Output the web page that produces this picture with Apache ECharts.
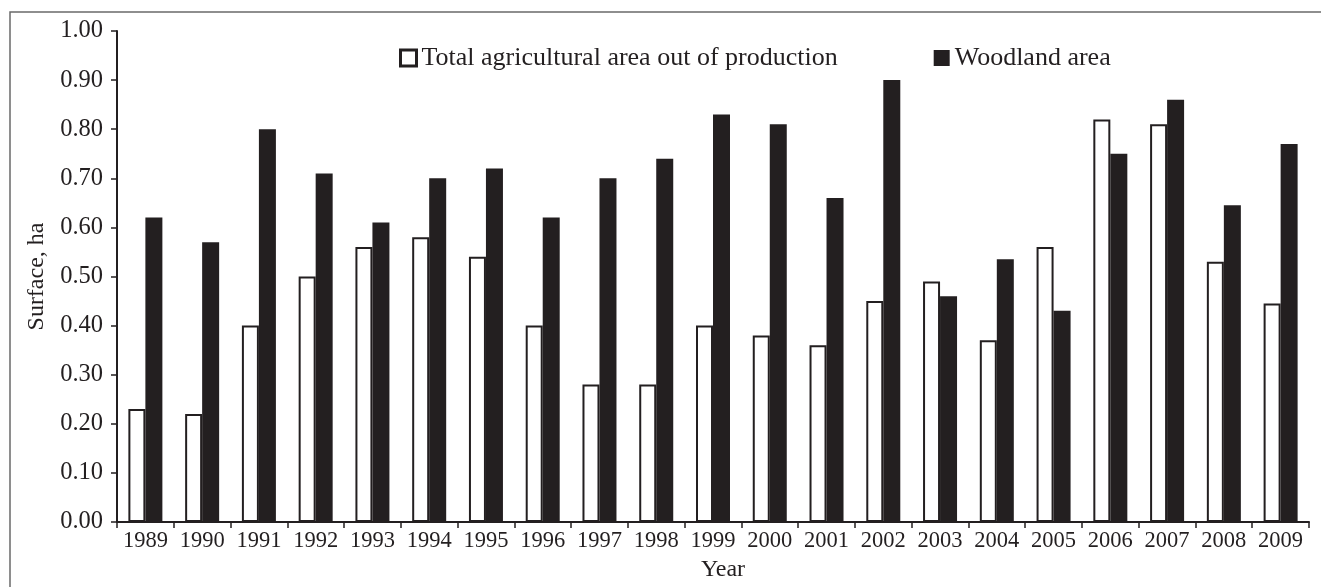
<!DOCTYPE html>
<html>
<head>
<meta charset="utf-8">
<script src="https://cdn.jsdelivr.net/npm/echarts@6/dist/echarts.min.js"></script>
<style>
html,body{margin:0;padding:0;background:#fff;}
#chart{width:1321px;height:587px;}
</style>
</head>
<body>
<div id="chart"></div>
<script>
const years = ['1989','1990','1991','1992','1993','1994','1995','1996','1997','1998','1999','2000','2001','2002','2003','2004','2005','2006','2007','2008','2009'];
const agriculturalOut = [0.23,0.22,0.40,0.50,0.56,0.58,0.54,0.40,0.28,0.28,0.40,0.38,0.36,0.45,0.49,0.37,0.56,0.82,0.81,0.53,0.445];
const woodland = [0.62,0.57,0.80,0.71,0.61,0.70,0.72,0.62,0.70,0.74,0.83,0.81,0.66,0.90,0.46,0.535,0.43,0.75,0.86,0.645,0.77];
const seriesNames = ['Total agricultural area out of production','Woodland area'];

const ink = '#231f20';
const font = "'Liberation Serif','Times New Roman',serif";

const chart = echarts.init(document.getElementById('chart'), null, {renderer:'canvas'});
chart.setOption({
  animation:false,
  backgroundColor:'#fff',
  textStyle:{fontFamily:font,color:ink},
  graphic:[{
    type:'rect', z:-10, silent:true,
    shape:{x:10,y:12,width:1400,height:700},
    style:{fill:null,stroke:'#6a6a6a',lineWidth:1.5}
  }],
  legend:{
    left:394, top:40,
    itemWidth:16, itemHeight:16, itemGap:96,
    textStyle:{fontFamily:font,fontSize:26,color:ink},
    data:[
      {name:seriesNames[0], icon:'rect', itemStyle:{color:'#fff',borderColor:ink,borderWidth:3}},
      {name:seriesNames[1], icon:'rect', itemStyle:{color:ink,borderWidth:0}}
    ]
  },
  grid:{left:117,right:12,top:31,bottom:59,containLabel:false},
  xAxis:{
    type:'category',
    data:years,
    name:'Year',
    nameLocation:'middle',
    nameGap:36,
    nameTextStyle:{fontFamily:font,fontSize:24,color:ink,padding:[0,0,0,20]},
    axisLine:{lineStyle:{color:ink,width:2}},
    axisTick:{show:true,length:6,lineStyle:{color:ink,width:1.5}},
    axisLabel:{fontFamily:font,fontSize:22.5,color:ink,margin:8,interval:0}
  },
  yAxis:{
    type:'value',
    min:0,max:1,interval:0.1,
    name:'Surface, ha',
    nameLocation:'middle',
    nameGap:68,
    nameTextStyle:{fontFamily:font,fontSize:24,color:ink},
    axisLine:{show:true,lineStyle:{color:ink,width:2}},
    axisTick:{show:true,length:6,lineStyle:{color:ink,width:1.5}},
    splitLine:{show:false},
    axisLabel:{fontFamily:font,fontSize:24.5,color:ink,margin:14,formatter:v=>v.toFixed(2)}
  },
  series:[
    {
      name:seriesNames[0], type:'bar', data:agriculturalOut,
      barWidth:17, barGap:'0%',
      itemStyle:{color:'#fff',borderColor:ink,borderWidth:2}
    },
    {
      name:seriesNames[1], type:'bar', data:woodland,
      barWidth:17, barGap:'0%',
      itemStyle:{color:ink,borderColor:ink,borderWidth:0}
    }
  ]
});
</script>
</body>
</html>
